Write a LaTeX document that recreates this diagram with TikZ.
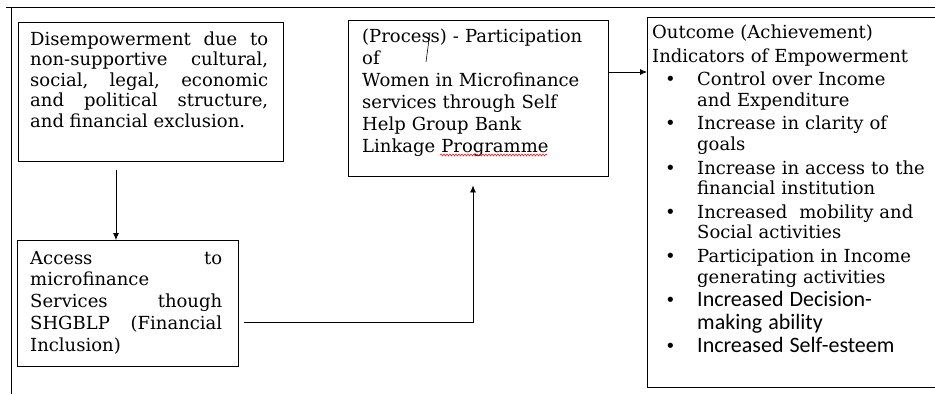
\documentclass[tikz,border=0pt]{standalone}
\usepackage{fontspec}
\setmainfont{DejaVu Serif}
\newfontfamily\calibrifont{Carlito}
\usetikzlibrary{arrows.meta, calc, decorations.pathmorphing}

\tikzset{
  box/.style={draw, line width=0.8pt, inner sep=0pt},
  txt/.style={inner sep=0pt, anchor=base west, font=\fontsize{18}{20.6}\selectfont},
  arr/.style={line width=0.8pt, -{Latex[length=7pt,width=6pt]}},
}

% one bullet line of the outcome list
\newlength{\itemgap}
\setlength{\itemgap}{3pt}
\newcommand{\pointitem}[1]{\par\vspace{\itemgap}\hangindent=45pt\hangafter=1\noindent\hspace*{13pt}\makebox[32pt][l]{\rmfamily\fontsize{18}{20}\selectfont\textbullet}#1}
\newcommand{\nextline}{\hfill\break}

\begin{document}
\begin{tikzpicture}[x=1pt, y=-1pt]
  \useasboundingbox (0,0) rectangle (935,394);
  \clip (0,0) rectangle (935,394);
  \draw [line width=0.8pt] (6,7) -- (935,7); % frame top
  \draw [line width=0.8pt] (11,7) -- (11,394); % frame left

  \node [box, minimum width=265pt, minimum height=139pt] (dis) at (150.5,91.5) {}; % cause
  \node [txt, text width=238pt, align=justify] (distxt) at (30,45) {Disempowerment due to\linebreak non-supportive cultural,\linebreak social, legal, economic\linebreak and political structure,\linebreak and financial exclusion.};

  \node [box, minimum width=221pt, minimum height=126pt] (acc) at (127.5,303.5) {}; % input
  \node [txt, text width=192pt, align=justify, font=\fontsize{18}{21.8}\selectfont] (acctxt) at (30,264) {Access to\linebreak microfinance\linebreak Services though\linebreak SHGBLP (Financial\linebreak Inclusion)};

  \node [box, minimum width=260pt, minimum height=156pt] (proc) at (478,98) {}; % process
  \node [txt, text width=240pt, align=left, font=\fontsize{18}{22}\selectfont] (proctxt) at (362,42) {(Process) - Participation\\of\\Women in Microfinance\\services through Self\\Help Group Bank\\Linkage Programme};
  \draw [line width=0.6pt] (430,32) -- (426,62); % stray stroke
  \draw [red, line width=0.5pt, decorate, decoration={snake, amplitude=1pt, segment length=3pt}] (440,155) -- (547,155);

  \node [box, anchor=north west, minimum width=320pt, minimum height=370pt] (out) at (647,17) {}; % outcome
  \node [txt, text width=280pt, align=left] (outtxt) at (652,38) {Outcome (Achievement)\\[3.5pt]Indicators of Empowerment
    \pointitem{Control over Income\nextline and Expenditure}
    \pointitem{Increase in clarity of\nextline goals}
    \pointitem{Increase in access to the\nextline financial institution}
    \pointitem{Increased\ \ mobility and\nextline Social activities}
    \pointitem{Participation in Income\nextline generating activities}\par
    {\calibrifont\fontsize{22}{23}\selectfont\setlength{\itemgap}{0pt}
    \pointitem{Increased Decision-\nextline making ability}
    \pointitem{Increased Self-esteem}\par}};

  \coordinate (a1) at (116,170);
  \draw [arr] (a1) -- (a1 |- acc.north);
  \coordinate (b1) at ([xshift=6pt]acc.east |- 0,322);
  \coordinate (b2) at (473,322);
  \draw [arr] (b1) -- (b2) -- ($(b2 |- proc.south)+(0,9)$);
  \coordinate (c1) at (proc.east |- 0,72);
  \draw [arr] (c1) -- (c1 -| out.west);
\end{tikzpicture}
\end{document}
